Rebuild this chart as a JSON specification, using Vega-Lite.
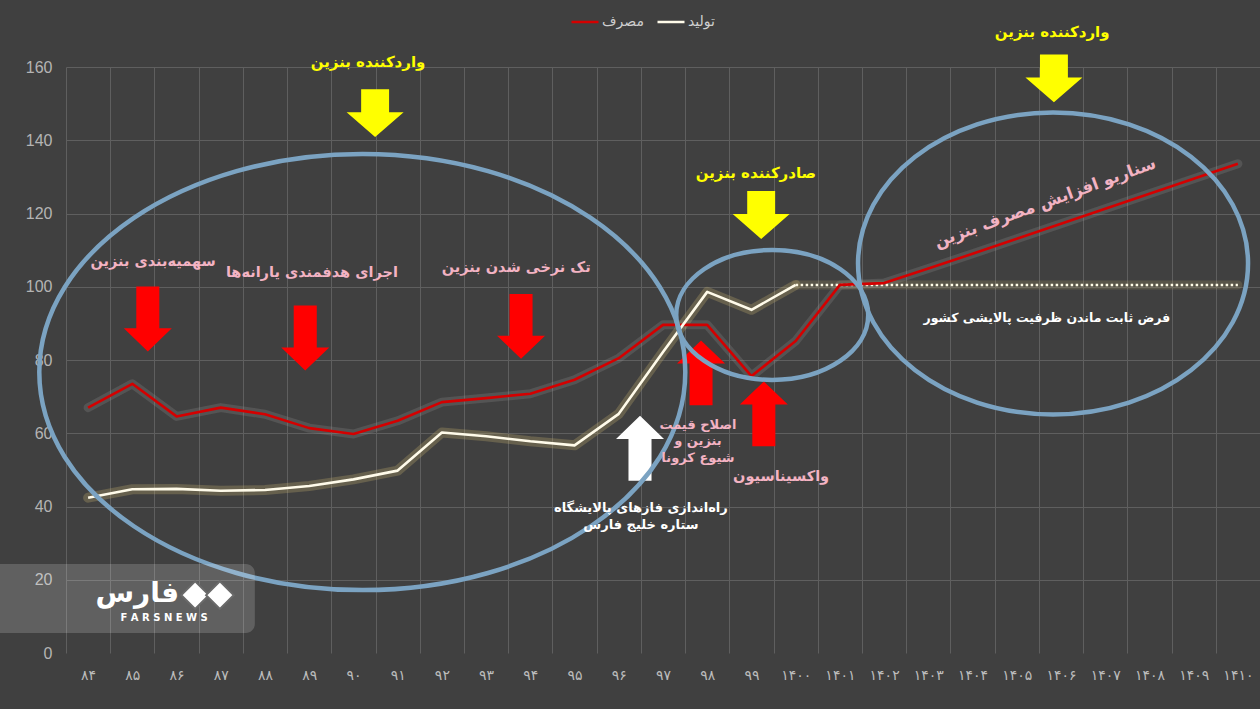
{
  "$schema": "https://vega.github.io/schema/vega-lite/v6.json",
  "width": 1194,
  "height": 586,
  "autosize": {"type": "none"},
  "padding": {"left": 66, "top": 67, "right": 0, "bottom": 56},
  "background": "#404040",
  "config": {
    "view": {"stroke": null},
    "font": "DejaVu Sans",
    "axisX": {"ticks": false, "domain": false, "grid": true, "gridColor": "#5f5f5f", "gridWidth": 1, "labelColor": "#bcbcbc", "labelFont": "DejaVu Sans", "labelFontSize": 14, "labelPadding": 15, "labelAngle": 0, "labelOverlap": false, "labelFlush": false, "labelBound": false},
    "axisY": {"ticks": false, "domain": false, "grid": true, "gridColor": "#5f5f5f", "gridWidth": 1, "labelColor": "#b4b4b4", "labelFont": "Liberation Sans", "labelFontSize": 16, "labelPadding": 14}
  },
  "datasets": {
    "lines": [
      {"series": "مصرف", "year": 1384, "value": 67.0, "phase": "actual"},
      {"series": "مصرف", "year": 1385, "value": 73.5, "phase": "actual"},
      {"series": "مصرف", "year": 1386, "value": 64.6, "phase": "actual"},
      {"series": "مصرف", "year": 1387, "value": 67.0, "phase": "actual"},
      {"series": "مصرف", "year": 1388, "value": 65.2, "phase": "actual"},
      {"series": "مصرف", "year": 1389, "value": 61.4, "phase": "actual"},
      {"series": "مصرف", "year": 1390, "value": 59.8, "phase": "actual"},
      {"series": "مصرف", "year": 1391, "value": 63.4, "phase": "actual"},
      {"series": "مصرف", "year": 1392, "value": 68.5, "phase": "actual"},
      {"series": "مصرف", "year": 1393, "value": 69.6, "phase": "actual"},
      {"series": "مصرف", "year": 1394, "value": 70.8, "phase": "actual"},
      {"series": "مصرف", "year": 1395, "value": 74.6, "phase": "actual"},
      {"series": "مصرف", "year": 1396, "value": 80.5, "phase": "actual"},
      {"series": "مصرف", "year": 1397, "value": 89.6, "phase": "actual"},
      {"series": "مصرف", "year": 1398, "value": 89.6, "phase": "actual"},
      {"series": "مصرف", "year": 1399, "value": 75.6, "phase": "actual"},
      {"series": "مصرف", "year": 1400, "value": 85.2, "phase": "actual"},
      {"series": "مصرف", "year": 1401, "value": 100.5, "phase": "actual"},
      {"series": "مصرف", "year": 1402, "value": 101.0, "phase": "scenario"},
      {"series": "مصرف", "year": 1403, "value": 105.0, "phase": "scenario"},
      {"series": "مصرف", "year": 1404, "value": 109.0, "phase": "scenario"},
      {"series": "مصرف", "year": 1405, "value": 113.1, "phase": "scenario"},
      {"series": "مصرف", "year": 1406, "value": 117.2, "phase": "scenario"},
      {"series": "مصرف", "year": 1407, "value": 121.3, "phase": "scenario"},
      {"series": "مصرف", "year": 1408, "value": 125.4, "phase": "scenario"},
      {"series": "مصرف", "year": 1409, "value": 129.5, "phase": "scenario"},
      {"series": "مصرف", "year": 1410, "value": 133.6, "phase": "scenario"},
      {"series": "تولید", "year": 1384, "value": 42.4, "phase": "actual"},
      {"series": "تولید", "year": 1385, "value": 44.7, "phase": "actual"},
      {"series": "تولید", "year": 1386, "value": 44.8, "phase": "actual"},
      {"series": "تولید", "year": 1387, "value": 44.3, "phase": "actual"},
      {"series": "تولید", "year": 1388, "value": 44.5, "phase": "actual"},
      {"series": "تولید", "year": 1389, "value": 45.6, "phase": "actual"},
      {"series": "تولید", "year": 1390, "value": 47.4, "phase": "actual"},
      {"series": "تولید", "year": 1391, "value": 49.8, "phase": "actual"},
      {"series": "تولید", "year": 1392, "value": 60.2, "phase": "actual"},
      {"series": "تولید", "year": 1393, "value": 59.2, "phase": "actual"},
      {"series": "تولید", "year": 1394, "value": 57.8, "phase": "actual"},
      {"series": "تولید", "year": 1395, "value": 56.7, "phase": "actual"},
      {"series": "تولید", "year": 1396, "value": 65.3, "phase": "actual"},
      {"series": "تولید", "year": 1397, "value": 82.2, "phase": "actual"},
      {"series": "تولید", "year": 1398, "value": 98.6, "phase": "actual"},
      {"series": "تولید", "year": 1399, "value": 93.7, "phase": "actual"},
      {"series": "تولید", "year": 1400, "value": 100.5, "phase": "actual"},
      {"series": "تولید", "year": 1400, "value": 100.5, "phase": "scenario"},
      {"series": "تولید", "year": 1401, "value": 100.5, "phase": "scenario"},
      {"series": "تولید", "year": 1402, "value": 100.5, "phase": "scenario"},
      {"series": "تولید", "year": 1403, "value": 100.5, "phase": "scenario"},
      {"series": "تولید", "year": 1404, "value": 100.5, "phase": "scenario"},
      {"series": "تولید", "year": 1405, "value": 100.5, "phase": "scenario"},
      {"series": "تولید", "year": 1406, "value": 100.5, "phase": "scenario"},
      {"series": "تولید", "year": 1407, "value": 100.5, "phase": "scenario"},
      {"series": "تولید", "year": 1408, "value": 100.5, "phase": "scenario"},
      {"series": "تولید", "year": 1409, "value": 100.5, "phase": "scenario"},
      {"series": "تولید", "year": 1410, "value": 100.5, "phase": "scenario"}
    ],
    "redDown": [
      {"x": 1385.35, "y": 91.2},
      {"x": 1388.91, "y": 86.0},
      {"x": 1393.79, "y": 89.2}
    ],
    "redUp": [
      {"x": 1397.86, "y": 76.5},
      {"x": 1399.28, "y": 65.3}
    ],
    "whiteUp": [
      {"x": 1396.48, "y": 55.9}
    ],
    "yellowDown": [
      {"x": 1390.49, "y": 147.4},
      {"x": 1399.22, "y": 119.6},
      {"x": 1405.84, "y": 156.9}
    ],
    "ellipseBig": [{"x": 1390.2, "y": 76.7}],
    "ellipseMid": [{"x": 1399.47, "y": 92.3}],
    "ellipseRight": [{"x": 1405.82, "y": 106.35}],
    "yellowText": [
      {"x": 1390.33, "y": 161.4, "label": "واردکننده بنزین"},
      {"x": 1399.10, "y": 131.1, "label": "صادرکننده بنزین"},
      {"x": 1405.80, "y": 169.6, "label": "واردکننده بنزین"}
    ],
    "pinkText": [
      {"x": 1385.47, "y": 106.8, "label": "سهمیه‌بندی بنزین"},
      {"x": 1389.06, "y": 103.8, "label": "اجرای هدفمندی یارانه‌ها"},
      {"x": 1393.68, "y": 105.1, "label": "تک نرخی شدن بنزین"},
      {"x": 1399.67, "y": 48.0, "label": "واکسیناسیون"}
    ],
    "pinkMulti": [
      {"x": 1397.79, "y": 62.3, "label": "اصلاح قیمت\nبنزین و\nشیوع کرونا"}
    ],
    "whiteMulti": [
      {"x": 1396.50, "y": 39.6, "label": "راه‌اندازی فازهای پالایشگاه\nستاره خلیج فارس"}
    ],
    "scenarioText": [
      {"x": 1405.64, "y": 122.9, "label": "سناریو افزایش مصرف بنزین"}
    ],
    "assumptionText": [
      {"x": 1405.68, "y": 91.5, "label": "فرض ثابت ماندن ظرفیت پالایشی کشور"}
    ],
    "logoBox": [{"x": 1381.8, "x2": 1387.77, "y": 24.3, "y2": 5.46}],
    "logoDiamonds": [{"x": 1386.42, "y": 15.8}, {"x": 1386.98, "y": 15.8}],
    "logoName": [{"x": 1385.11, "y": 16.1, "label": "فارس"}],
    "logoLatin": [{"x": 1385.72, "y": 9.56, "label": "F  A  R  S  N  E  W  S"}]
  },
  "layer": [
    {
      "data": {"name": "lines"},
      "transform": [{"filter": "datum.series == 'مصرف'"}],
      "mark": {"type": "line", "stroke": "#9a9a9a", "opacity": 0.22, "strokeWidth": 9, "strokeCap": "round", "strokeJoin": "round"},
      "encoding": {
        "x": {
          "field": "year", "type": "quantitative", "title": null,
          "scale": {"domain": [1383.5, 1410.5], "nice": false, "zero": false},
          "axis": {
            "values": [1384, 1385, 1386, 1387, 1388, 1389, 1390, 1391, 1392, 1393, 1394, 1395, 1396, 1397, 1398, 1399, 1400, 1401, 1402, 1403, 1404, 1405, 1406, 1407, 1408, 1409, 1410],
            "labelExpr": "['۸۴','۸۵','۸۶','۸۷','۸۸','۸۹','۹۰','۹۱','۹۲','۹۳','۹۴','۹۵','۹۶','۹۷','۹۸','۹۹','۱۴۰۰','۱۴۰۱','۱۴۰۲','۱۴۰۳','۱۴۰۴','۱۴۰۵','۱۴۰۶','۱۴۰۷','۱۴۰۸','۱۴۰۹','۱۴۱۰'][datum.value - 1384]",
            "tickOffset": -22.11,
            "labelOffset": 22.11
          }
        },
        "y": {
          "field": "value", "type": "quantitative", "title": null,
          "scale": {"domain": [0, 160], "nice": false},
          "axis": {
            "values": [0, 20, 40, 60, 80, 100, 120, 140, 160],
            "gridOpacity": {"condition": {"test": "datum.value === 0", "value": 0}, "value": 1}
          }
        }
      }
    },
    {
      "data": {"name": "lines"},
      "transform": [{"filter": "datum.series == 'تولید' && datum.phase == 'actual'"}],
      "mark": {"type": "line", "stroke": "#c8b46e", "opacity": 0.28, "strokeWidth": 10, "strokeCap": "round", "strokeJoin": "round"},
      "encoding": {
        "x": {"field": "year", "type": "quantitative", "title": null, "scale": {"domain": [1383.5, 1410.5], "nice": false, "zero": false}},
        "y": {"field": "value", "type": "quantitative", "title": null, "scale": {"domain": [0, 160], "nice": false}}
      }
    },
    {
      "data": {"name": "lines"},
      "transform": [{"filter": "datum.series == 'تولید' && datum.phase == 'scenario'"}],
      "mark": {"type": "line", "stroke": "#c8b46e", "opacity": 0.18, "strokeWidth": 9, "strokeCap": "round"},
      "encoding": {
        "x": {"field": "year", "type": "quantitative", "title": null, "scale": {"domain": [1383.5, 1410.5], "nice": false, "zero": false}},
        "y": {"field": "value", "type": "quantitative", "title": null, "scale": {"domain": [0, 160], "nice": false}}
      }
    },
    {
      "data": {"name": "lines"},
      "transform": [{"filter": "datum.series == 'تولید' && datum.phase == 'scenario'"}],
      "mark": {"type": "line", "stroke": "#fffbe6", "strokeWidth": 2.5, "strokeDash": [2.5, 2.5]},
      "encoding": {
        "x": {"field": "year", "type": "quantitative", "title": null, "scale": {"domain": [1383.5, 1410.5], "nice": false, "zero": false}},
        "y": {"field": "value", "type": "quantitative", "title": null, "scale": {"domain": [0, 160], "nice": false}}
      }
    },
    {
      "data": {"name": "lines"},
      "transform": [{"filter": "datum.series == 'مصرف' || datum.phase == 'actual'"}],
      "mark": {"type": "line", "strokeWidth": 2.6, "strokeJoin": "round"},
      "encoding": {
        "x": {"field": "year", "type": "quantitative", "title": null, "scale": {"domain": [1383.5, 1410.5], "nice": false, "zero": false}},
        "y": {"field": "value", "type": "quantitative", "title": null, "scale": {"domain": [0, 160], "nice": false}},
        "color": {
          "field": "series", "type": "nominal",
          "scale": {"domain": ["مصرف", "تولید"], "range": ["#d40000", "#fffbea"]},
          "legend": {
            "orient": "none",
            "legendX": 504,
            "legendY": -60,
            "direction": "horizontal",
            "title": null,
            "symbolType": "stroke",
            "symbolSize": 729,
            "symbolStrokeWidth": 2.5,
            "labelColor": "#cfcfcf",
            "labelFont": "DejaVu Sans",
            "labelFontSize": 14,
            "labelOffset": 2,
            "columnPadding": 8
          }
        }
      }
    },
    {
      "data": {"name": "redDown"},
      "mark": {"type": "point", "shape": "M-0.48,-1.35L0.48,-1.35L0.48,0.39L1,0.39L0,1.35L-1,0.39L-0.48,0.39Z", "filled": true, "fill": "#ff0000", "strokeWidth": 0, "size": 2304, "opacity": 1},
      "encoding": {
        "x": {"field": "x", "type": "quantitative", "title": null, "scale": {"domain": [1383.5, 1410.5], "nice": false, "zero": false}},
        "y": {"field": "y", "type": "quantitative", "title": null, "scale": {"domain": [0, 160], "nice": false}}
      }
    },
    {
      "data": {"name": "redUp"},
      "mark": {"type": "point", "shape": "M-0.48,1.35L0.48,1.35L0.48,-0.39L1,-0.39L0,-1.35L-1,-0.39L-0.48,-0.39Z", "filled": true, "fill": "#ff0000", "strokeWidth": 0, "size": 2304, "opacity": 1},
      "encoding": {
        "x": {"field": "x", "type": "quantitative", "title": null, "scale": {"domain": [1383.5, 1410.5], "nice": false, "zero": false}},
        "y": {"field": "y", "type": "quantitative", "title": null, "scale": {"domain": [0, 160], "nice": false}}
      }
    },
    {
      "data": {"name": "whiteUp"},
      "mark": {"type": "point", "shape": "M-0.48,1.35L0.48,1.35L0.48,-0.39L1,-0.39L0,-1.35L-1,-0.39L-0.48,-0.39Z", "filled": true, "fill": "#ffffff", "strokeWidth": 0, "size": 2304, "opacity": 1},
      "encoding": {
        "x": {"field": "x", "type": "quantitative", "title": null, "scale": {"domain": [1383.5, 1410.5], "nice": false, "zero": false}},
        "y": {"field": "y", "type": "quantitative", "title": null, "scale": {"domain": [0, 160], "nice": false}}
      }
    },
    {
      "data": {"name": "yellowDown"},
      "mark": {"type": "point", "shape": "M-0.49,-0.84L0.49,-0.84L0.49,-0.03L1,-0.03L0,0.84L-1,-0.03L-0.49,-0.03Z", "filled": true, "fill": "#ffff00", "strokeWidth": 0, "size": 3249, "opacity": 1},
      "encoding": {
        "x": {"field": "x", "type": "quantitative", "title": null, "scale": {"domain": [1383.5, 1410.5], "nice": false, "zero": false}},
        "y": {"field": "y", "type": "quantitative", "title": null, "scale": {"domain": [0, 160], "nice": false}}
      }
    },
    {
      "data": {"name": "ellipseBig"},
      "mark": {"type": "point", "shape": "M-1,0C-1,-0.3728,-0.5523,-0.675,0,-0.675C0.5523,-0.675,1,-0.3728,1,0C1,0.3728,0.5523,0.675,0,0.675C-0.5523,0.675,-1,0.3728,-1,0Z", "filled": false, "stroke": "#7ba3c2", "strokeWidth": 4.5, "size": 417316, "opacity": 1},
      "encoding": {
        "x": {"field": "x", "type": "quantitative", "title": null, "scale": {"domain": [1383.5, 1410.5], "nice": false, "zero": false}},
        "y": {"field": "y", "type": "quantitative", "title": null, "scale": {"domain": [0, 160], "nice": false}}
      }
    },
    {
      "data": {"name": "ellipseMid"},
      "mark": {"type": "point", "shape": "M-1,0C-1,-0.3739,-0.5523,-0.677,0,-0.677C0.5523,-0.677,1,-0.3739,1,0C1,0.3739,0.5523,0.677,0,0.677C-0.5523,0.677,-1,0.3739,-1,0Z", "filled": false, "stroke": "#7ba3c2", "strokeWidth": 4.5, "size": 36864, "opacity": 1},
      "encoding": {
        "x": {"field": "x", "type": "quantitative", "title": null, "scale": {"domain": [1383.5, 1410.5], "nice": false, "zero": false}},
        "y": {"field": "y", "type": "quantitative", "title": null, "scale": {"domain": [0, 160], "nice": false}}
      }
    },
    {
      "data": {"name": "ellipseRight"},
      "mark": {"type": "point", "shape": "M-1,0C-1,-0.4275,-0.5523,-0.774,0,-0.774C0.5523,-0.774,1,-0.4275,1,0C1,0.4275,0.5523,0.774,0,0.774C-0.5523,0.774,-1,0.4275,-1,0Z", "filled": false, "stroke": "#7ba3c2", "strokeWidth": 4.5, "size": 152100, "opacity": 1},
      "encoding": {
        "x": {"field": "x", "type": "quantitative", "title": null, "scale": {"domain": [1383.5, 1410.5], "nice": false, "zero": false}},
        "y": {"field": "y", "type": "quantitative", "title": null, "scale": {"domain": [0, 160], "nice": false}}
      }
    },
    {
      "data": {"name": "yellowText"},
      "mark": {"type": "text", "font": "DejaVu Sans", "fontWeight": "bold", "fontSize": 15, "color": "#ffff00", "align": "center", "baseline": "middle"},
      "encoding": {
        "x": {"field": "x", "type": "quantitative", "title": null, "scale": {"domain": [1383.5, 1410.5], "nice": false, "zero": false}},
        "y": {"field": "y", "type": "quantitative", "title": null, "scale": {"domain": [0, 160], "nice": false}},
        "text": {"field": "label"}
      }
    },
    {
      "data": {"name": "pinkText"},
      "mark": {"type": "text", "font": "DejaVu Sans", "fontWeight": "bold", "fontSize": 14.5, "color": "#f3b3c3", "align": "center", "baseline": "middle"},
      "encoding": {
        "x": {"field": "x", "type": "quantitative", "title": null, "scale": {"domain": [1383.5, 1410.5], "nice": false, "zero": false}},
        "y": {"field": "y", "type": "quantitative", "title": null, "scale": {"domain": [0, 160], "nice": false}},
        "text": {"field": "label"}
      }
    },
    {
      "data": {"name": "pinkMulti"},
      "mark": {"type": "text", "font": "DejaVu Sans", "fontWeight": "bold", "fontSize": 13, "lineHeight": 16.5, "lineBreak": "\n", "color": "#f3b3c3", "align": "center", "baseline": "middle"},
      "encoding": {
        "x": {"field": "x", "type": "quantitative", "title": null, "scale": {"domain": [1383.5, 1410.5], "nice": false, "zero": false}},
        "y": {"field": "y", "type": "quantitative", "title": null, "scale": {"domain": [0, 160], "nice": false}},
        "text": {"field": "label"}
      }
    },
    {
      "data": {"name": "whiteMulti"},
      "mark": {"type": "text", "font": "DejaVu Sans", "fontWeight": "bold", "fontSize": 13, "lineHeight": 17, "lineBreak": "\n", "color": "#ffffff", "align": "center", "baseline": "middle"},
      "encoding": {
        "x": {"field": "x", "type": "quantitative", "title": null, "scale": {"domain": [1383.5, 1410.5], "nice": false, "zero": false}},
        "y": {"field": "y", "type": "quantitative", "title": null, "scale": {"domain": [0, 160], "nice": false}},
        "text": {"field": "label"}
      }
    },
    {
      "data": {"name": "scenarioText"},
      "mark": {"type": "text", "font": "DejaVu Sans", "fontWeight": "bold", "fontSize": 16.5, "angle": -20, "color": "#f3b3c3", "align": "center", "baseline": "middle"},
      "encoding": {
        "x": {"field": "x", "type": "quantitative", "title": null, "scale": {"domain": [1383.5, 1410.5], "nice": false, "zero": false}},
        "y": {"field": "y", "type": "quantitative", "title": null, "scale": {"domain": [0, 160], "nice": false}},
        "text": {"field": "label"}
      }
    },
    {
      "data": {"name": "assumptionText"},
      "mark": {"type": "text", "font": "DejaVu Sans", "fontWeight": "bold", "fontSize": 12.5, "color": "#ffffff", "align": "center", "baseline": "middle"},
      "encoding": {
        "x": {"field": "x", "type": "quantitative", "title": null, "scale": {"domain": [1383.5, 1410.5], "nice": false, "zero": false}},
        "y": {"field": "y", "type": "quantitative", "title": null, "scale": {"domain": [0, 160], "nice": false}},
        "text": {"field": "label"}
      }
    },
    {
      "data": {"name": "logoBox"},
      "mark": {"type": "rect", "fill": "#ffffff", "opacity": 0.17, "cornerRadius": 9},
      "encoding": {
        "x": {"field": "x", "type": "quantitative", "title": null, "scale": {"domain": [1383.5, 1410.5], "nice": false, "zero": false}},
        "x2": {"field": "x2"},
        "y": {"field": "y", "type": "quantitative", "title": null, "scale": {"domain": [0, 160], "nice": false}},
        "y2": {"field": "y2"}
      }
    },
    {
      "data": {"name": "logoDiamonds"},
      "mark": {"type": "point", "shape": "diamond", "filled": true, "fill": "#ffffff", "stroke": "#6a6a6a", "strokeWidth": 2, "size": 760, "opacity": 1},
      "encoding": {
        "x": {"field": "x", "type": "quantitative", "title": null, "scale": {"domain": [1383.5, 1410.5], "nice": false, "zero": false}},
        "y": {"field": "y", "type": "quantitative", "title": null, "scale": {"domain": [0, 160], "nice": false}}
      }
    },
    {
      "data": {"name": "logoName"},
      "mark": {"type": "text", "font": "DejaVu Sans", "fontWeight": "bold", "fontSize": 28, "color": "#ffffff", "align": "center", "baseline": "middle"},
      "encoding": {
        "x": {"field": "x", "type": "quantitative", "title": null, "scale": {"domain": [1383.5, 1410.5], "nice": false, "zero": false}},
        "y": {"field": "y", "type": "quantitative", "title": null, "scale": {"domain": [0, 160], "nice": false}},
        "text": {"field": "label"}
      }
    },
    {
      "data": {"name": "logoLatin"},
      "mark": {"type": "text", "font": "DejaVu Sans", "fontWeight": "bold", "fontSize": 10, "color": "#ffffff", "align": "center", "baseline": "middle"},
      "encoding": {
        "x": {"field": "x", "type": "quantitative", "title": null, "scale": {"domain": [1383.5, 1410.5], "nice": false, "zero": false}},
        "y": {"field": "y", "type": "quantitative", "title": null, "scale": {"domain": [0, 160], "nice": false}},
        "text": {"field": "label"}
      }
    }
  ]
}
